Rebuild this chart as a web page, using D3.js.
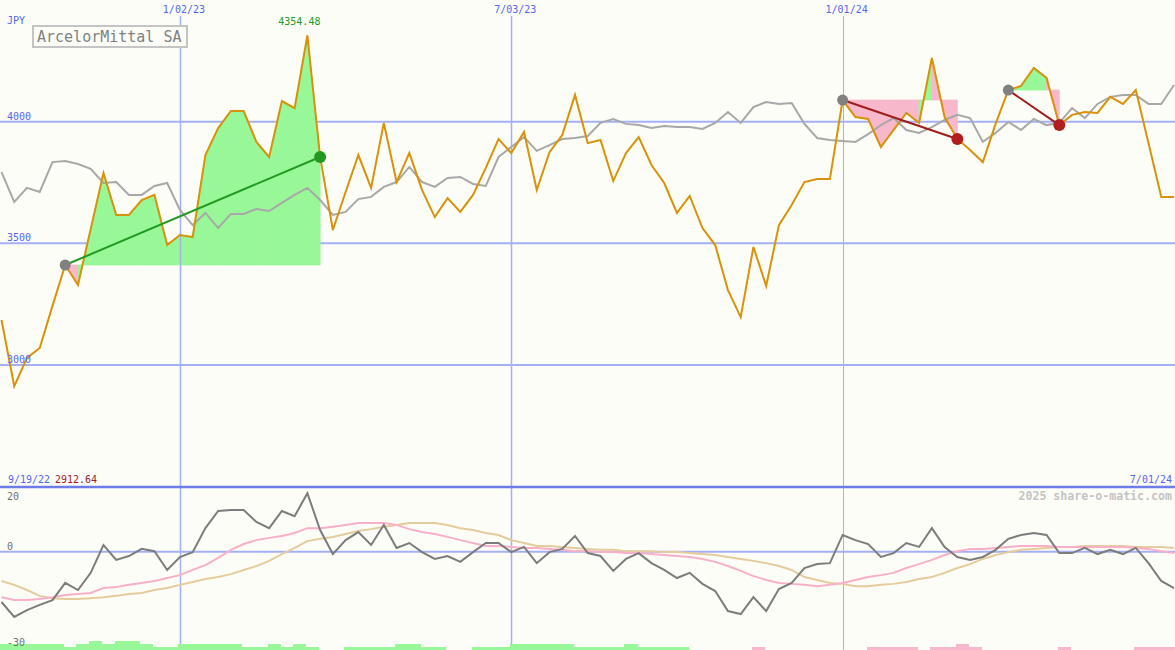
<!DOCTYPE html>
<html><head><meta charset="utf-8">
<script src="https://cdn.jsdelivr.net/npm/d3@7"></script>
<style>
body{margin:0;background:#fdfdf8;}
svg{display:block;}
text{font-family:"DejaVu Sans Mono",monospace;}
</style>
</head><body><svg id="c" width="1175" height="650"></svg>
<script>
// ---- data (weekly) ----
const dates = [
"2022-09-26","2022-10-03","2022-10-10","2022-10-17","2022-10-24","2022-10-31","2022-11-07","2022-11-14","2022-11-21","2022-11-28",
"2022-12-05","2022-12-12","2022-12-19","2022-12-26","2023-01-02","2023-01-09","2023-01-16","2023-01-23","2023-01-30","2023-02-06",
"2023-02-13","2023-02-20","2023-02-27","2023-03-06","2023-03-13","2023-03-20","2023-03-27","2023-04-03","2023-04-10","2023-04-17",
"2023-04-24","2023-05-01","2023-05-08","2023-05-15","2023-05-22","2023-05-29","2023-06-05","2023-06-12","2023-06-19","2023-06-26",
"2023-07-03","2023-07-10","2023-07-17","2023-07-24","2023-07-31","2023-08-07","2023-08-14","2023-08-21","2023-08-28","2023-09-04",
"2023-09-11","2023-09-18","2023-09-25","2023-10-02","2023-10-09","2023-10-16","2023-10-23","2023-10-30","2023-11-06","2023-11-13",
"2023-11-20","2023-11-27","2023-12-04","2023-12-11","2023-12-18","2023-12-25","2024-01-01","2024-01-08","2024-01-15","2024-01-22",
"2024-01-29","2024-02-05","2024-02-12","2024-02-19","2024-02-26","2024-03-04","2024-03-11","2024-03-18","2024-03-25","2024-04-01",
"2024-04-08","2024-04-15","2024-04-22","2024-04-29","2024-05-06","2024-05-13","2024-05-20","2024-05-27","2024-06-03","2024-06-10",
"2024-06-17","2024-06-24","2024-07-01"];

const price = [
3185,2912.64,3029,3070,3243,3411,3329,3559,3789,3617,
3617,3678,3699,3493,3534,3526,3863,3974,4044,4044,
3917,3855,4085,4056,4354.48,3855,3555,3711,3863,3728,
3995,3752,3871,3719,3608,3686,3629,3699,3810,3929,
3871,3958,3719,3875,3945,4110,3912,3925,3756,3871,
3937,3822,3748,3625,3695,3563,3493,3308,3197,3485,
3325,3575,3658,3752,3764,3764,4089,4019,4011,3896,
3966,4036,3995,4262,4019,3929,3884,3834,3991,4130,
4147,4221,4180,3986,4028,4040,4036,4102,4073,4130,
3912,3691,3691];

const benchmark = [
3793,3670,3728,3711,3834,3838,3826,3806,3748,3752,
3699,3699,3736,3748,3637,3575,3625,3563,3621,3621,
3641,3633,3666,3699,3728,3678,3617,3629,3682,3691,
3732,3752,3814,3752,3732,3769,3773,3744,3736,3855,
3896,3937,3880,3904,3929,3933,3941,3995,4011,3991,
3986,3974,3982,3978,3978,3970,3995,4040,3995,4060,
4081,4073,4077,3991,3933,3925,3921,3917,3949,3986,
4015,3966,3954,3978,4007,4028,4015,3917,3954,3999,
3966,4011,3986,3995,4056,4015,4073,4102,4110,4110,
4073,4073,4151];

const momentum = [
-15.5,-20.1,-18.0,-16.4,-14.9,-9.6,-11.8,-6.5,2.1,-2.5,
-1.3,0.9,0.2,-5.6,-1.6,-0.1,7.3,12.6,12.9,12.9,
9.2,7.3,12.6,11.0,18.1,6.7,-0.7,3.6,6.1,2.1,
8.3,1.2,2.7,-0.1,-2.2,-1.3,-3.1,-0.1,2.7,2.7,
-0.1,1.5,-3.5,-0.1,0.9,4.9,-0.4,-1.3,-5.9,-2.2,
-0.4,-3.5,-5.6,-8.1,-6.5,-9.9,-12.1,-18.3,-19.2,-14.0,
-18.3,-11.5,-9.6,-5.0,-3.8,-3.5,5.2,3.6,2.4,-1.6,
-0.4,2.7,1.5,7.3,1.5,-1.6,-2.5,-1.6,0.6,4.0,
5.2,5.8,5.2,-0.4,-0.4,1.2,-0.7,0.6,-0.7,1.2,
-3.5,-9.0,-11.2];

const maFast = [
-14.0,-14.9,-14.9,-14.6,-14.0,-13.3,-13.0,-12.7,-11.2,-10.9,
-10.2,-9.6,-9.0,-8.1,-7.2,-5.6,-4.1,-1.9,0.6,2.4,
3.6,4.3,4.9,5.8,7.3,7.3,7.7,8.3,8.9,8.9,
8.9,8.3,7.0,6.1,5.5,4.6,3.6,2.7,1.8,1.8,
1.5,1.2,1.2,0.9,0.6,0.2,0.2,-0.1,-0.1,-0.4,
-0.4,-0.7,-1.0,-1.3,-1.6,-2.2,-3.1,-4.4,-5.9,-7.5,
-8.7,-9.6,-9.9,-10.2,-10.6,-10.2,-9.6,-8.7,-7.8,-7.2,
-6.5,-5.0,-3.8,-2.5,-1.0,0.2,0.9,0.9,1.2,1.5,
1.8,1.8,1.8,1.5,1.5,1.5,1.5,1.5,1.5,1.2,
0.9,0.2,-0.4];

const maSlow = [
-9.0,-10.2,-11.8,-13.6,-14.3,-14.6,-14.6,-14.3,-14.0,-13.6,
-13.0,-12.7,-11.8,-11.2,-10.2,-9.3,-8.4,-7.8,-6.9,-5.6,
-4.4,-2.8,-0.7,1.2,3.3,4.0,4.6,5.5,6.4,7.0,
7.7,8.3,8.9,8.9,8.9,8.3,7.3,6.7,5.8,5.2,
3.6,2.7,1.8,1.8,1.5,1.2,0.9,0.6,0.6,0.2,
0.2,0.2,-0.1,-0.1,-0.4,-0.7,-1.0,-1.6,-2.2,-2.8,
-3.5,-4.4,-5.6,-7.8,-8.7,-9.6,-9.9,-10.6,-10.6,-10.2,
-9.9,-9.3,-8.4,-7.8,-6.5,-5.0,-3.8,-2.2,-1.0,-0.1,
0.6,0.9,1.2,1.5,1.5,1.8,1.8,1.8,1.8,1.5,
1.5,1.5,1.2];

// signal strength bars (+ green, - pink)
const signal = [
2,2,2,2,2,1,2,3,2,3,
3,2,1,1,2,2,2,2,2,1,
1,2,1,2,1,0,0,1,1,1,
1,2,2,1,1,0,0,1,1,1,
2,2,2,2,2,1,1,1,1,2,
1,1,1,1,0,0,0,0,0,-1,
0,0,0,0,0,0,0,0,-1,-1,
-1,-1,0,-1,-1,-2,-1,0,0,0,
0,0,0,-1,0,0,0,0,0,-1,
-1,-1,-1];

const trades = [
  {entry:"2022-10-31", exit:"2023-03-20"},
  {entry:"2024-01-01", exit:"2024-03-04"},
  {entry:"2024-04-01", exit:"2024-04-29"}
];
const priceTicks = [4000, 3500, 3000];
const indicatorTicks = [20, 0, -30];
const dateTicks = ["2023-01-02", "2023-07-03", "2024-01-01"];
const dateTickLabels = ["1/02/23", "7/03/23", "1/01/24"];
const title = "ArcelorMittal SA";

// ---- scales ----
const W = 1175, H = 650;
const parse = d3.timeParse("%Y-%m-%d");
const t = dates.map(parse);
const x = d3.scaleTime().domain([t[0], t[t.length-1]]).range([1.5, 1174]);
const y = d3.scaleLinear().domain([3000, 4000]).range([365, 121.7]);
const yi = d3.scaleLinear().domain([-30, 20]).range([649, 487]);
const yb = d3.scaleLinear().domain([0, 3]).range([650, 641]);

const svg = d3.select("#c");
svg.append("rect").attr("width", W).attr("height", H).attr("fill", "#fdfdf8");

const gridC = "#a4b0f4", blueTxt = "#5466f0";
const GREEN_FILL = "#98f898", PINK_FILL = "#f8b8cc";

// horizontal grid
svg.append("g").selectAll("line").data(priceTicks).join("line")
  .attr("x1", 0).attr("x2", W).attr("y1", d => y(d)).attr("y2", d => y(d))
  .attr("stroke", gridC).attr("stroke-width", 2);
svg.append("line").attr("x1", 0).attr("x2", W).attr("y1", yi(0)).attr("y2", yi(0))
  .attr("stroke", gridC).attr("stroke-width", 2);

// trade fills (one trapezoid per weekly segment, coloured by the segment's end vs entry)
const idx = s => dates.indexOf(s);
const fillG = svg.append("g");
trades.forEach(tr => {
  const a = idx(tr.entry), b = idx(tr.exit);
  const L = price[a];
  for (let i = a; i < b; i++) {
    const pts = [[x(t[i]), y(L)], [x(t[i]), y(price[i])], [x(t[i+1]), y(price[i+1])], [x(t[i+1]), y(L)]];
    const c = price[i+1] >= L ? GREEN_FILL : PINK_FILL;
    fillG.append("path").attr("d", d3.line()(pts) + "Z")
      .attr("fill", c).attr("stroke", c).attr("stroke-width", 0.8).attr("stroke-linejoin", "round");
  }
});

// vertical date lines
svg.append("g").selectAll("line").data(dateTicks).join("line")
  .attr("x1", d => Math.round(x(parse(d))) + 0.5).attr("x2", d => Math.round(x(parse(d))) + 0.5)
  .attr("y1", 16).attr("y2", H)
  .attr("stroke", gridC).attr("stroke-width", (d, i) => i < 2 ? 1.5 : 1);

// separator
svg.append("line").attr("x1", 0).attr("x2", W).attr("y1", 487).attr("y2", 487)
  .attr("stroke", "#6c7ce8").attr("stroke-width", 2.5);

// signal bars
const step = x(t[1]) - x(t[0]);
svg.append("g").attr("shape-rendering", "crispEdges").selectAll("rect")
  .data(signal.map((v, i) => ({v, i})).filter(d => d.v !== 0)).join("rect")
  .attr("x", d => x(t[d.i]) - 1.5).attr("width", step + 0.3)
  .attr("y", d => yb(Math.abs(d.v))).attr("height", d => yb(0) - yb(Math.abs(d.v)))
  .attr("fill", d => d.v > 0 ? GREEN_FILL : PINK_FILL);

// indicator lines
const lineI = d3.line().x((d, i) => x(t[i])).y(d => yi(d));
svg.append("path").attr("d", lineI(maSlow)).attr("fill", "none").attr("stroke", "#e4cc9c").attr("stroke-width", 2);
svg.append("path").attr("d", lineI(maFast)).attr("fill", "none").attr("stroke", "#f8b0c8").attr("stroke-width", 2);
svg.append("path").attr("d", lineI(momentum)).attr("fill", "none").attr("stroke", "#7c7c7c").attr("stroke-width", 2);

// price lines
const lineP = d3.line().x((d, i) => x(t[i])).y(d => y(d));
svg.append("path").attr("d", lineP(benchmark)).attr("fill", "none").attr("stroke", "#a8a8a8").attr("stroke-width", 2);
svg.append("path").attr("d", lineP(price)).attr("fill", "none").attr("stroke", "#d8920a").attr("stroke-width", 2);

// trade lines and dots
trades.forEach(tr => {
  const a = idx(tr.entry), b = idx(tr.exit);
  const win = price[b] >= price[a];
  const c = win ? "#229a22" : "#a01c1c";
  svg.append("line").attr("x1", x(t[a])).attr("y1", y(price[a])).attr("x2", x(t[b])).attr("y2", y(price[b]))
    .attr("stroke", c).attr("stroke-width", 2);
  svg.append("circle").attr("cx", x(t[a])).attr("cy", y(price[a])).attr("r", 5.5).attr("fill", "#808080");
  svg.append("circle").attr("cx", x(t[b])).attr("cy", y(price[b])).attr("r", 6).attr("fill", win ? "#229a22" : "#b01e1e");
});

// text
const txt = (s, xx, yy, fill, size, anchor, weight) => svg.append("text").text(s).attr("x", xx).attr("y", yy)
  .attr("fill", fill).attr("font-size", size).attr("text-anchor", anchor || "start").attr("font-weight", weight || "normal");

dateTicks.forEach((d, i) => txt(dateTickLabels[i], x(parse(d)) + 4, 13, blueTxt, 10, "middle"));
txt("JPY", 7, 24, blueTxt, 10);
priceTicks.forEach(v => txt(String(v), 7, y(v) - 2, blueTxt, 10));
indicatorTicks.forEach((v, i) => txt(String(v), 7, i === 0 ? 500 : (i === 1 ? yi(v) - 2 : 646), "#707070", 10));

const maxI = price.indexOf(d3.max(price)), minI = price.indexOf(d3.min(price));
txt(d3.format(".2f")(price[maxI]), x(t[maxI]) - 8, 25, "#229a22", 10, "middle");
txt(d3.timeFormat("%-m/%d/%y")(d3.timeWeek.offset(t[0], -1)), 8, 483, blueTxt, 10);
txt(d3.format(".2f")(price[minI]), 55, 483, "#a01c1c", 10);
txt(d3.timeFormat("%-m/%d/%y")(t[t.length-1]), 1172, 483, blueTxt, 10, "end");
txt("2025 share-o-matic.com", 1172, 500, "#c4c4c4", 11.6, "end", "bold");

svg.append("rect").attr("x", 33).attr("y", 26).attr("width", 154).attr("height", 21)
  .attr("fill", "#fdfdf8").attr("stroke", "#c4c4c4").attr("stroke-width", 2);
txt(title, 37, 42, "#808080", 15);
</script></body></html>
